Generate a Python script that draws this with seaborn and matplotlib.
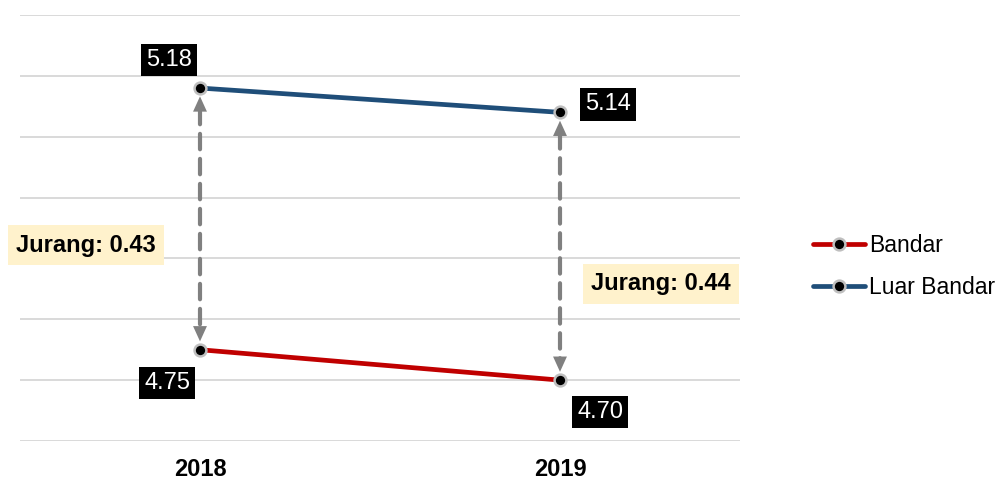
import matplotlib
matplotlib.use("Agg")
import matplotlib.pyplot as plt
import seaborn as sns
import pandas as pd

years = ["2018", "2019"]
bandar = [4.75, 4.70]
luar_bandar = [5.18, 5.14]
gaps = [0.43, 0.44]
series_names = ["Bandar", "Luar Bandar"]
y_ticks = [4.6, 4.7, 4.8, 4.9, 5.0, 5.1, 5.2, 5.3]

sns.set_style("white")
plt.rcParams['font.family'] = ['Liberation Sans', 'DejaVu Sans']

df = pd.DataFrame({
    "x": list(range(len(years))) * 2,
    "value": bandar + luar_bandar,
    "series": [series_names[0]] * len(years) + [series_names[1]] * len(years),
})

FS = 17
fig = plt.figure(figsize=(10.06, 4.79), dpi=100)
ax = fig.add_axes([20 / 1006, 38 / 479, 720 / 1006, 426 / 479])

palette = {"Bandar": "#C00000", "Luar Bandar": "#1F4E79"}
sns.lineplot(data=df, x="x", y="value", hue="series", palette=palette, ax=ax,
             linewidth=3.4, marker="o", markersize=8.5, markerfacecolor="black",
             markeredgecolor="#BFBFBF", markeredgewidth=1.8, zorder=5)

ax.set_xlim(-0.5, len(years) - 0.5)
ax.set_ylim(4.6, 5.3)
ax.set_yticks(y_ticks)
ax.set_yticklabels([])
ax.tick_params(axis="y", length=0)
ax.tick_params(axis="x", length=0, pad=12)
ax.set_xticks(range(len(years)))
ax.set_xticklabels(years, fontsize=FS, fontweight="bold", color="black")
ax.set_xlabel("")
ax.set_ylabel("")
ax.grid(axis="y", color="#D9D9D9", linewidth=1.4)
ax.grid(axis="x", visible=False)
for s in ax.spines.values():
    s.set_visible(False)

# gap arrows: solid heads + dashed shaft
for i in range(len(years)):
    ax.annotate("", xy=(i, bandar[i]), xytext=(i, luar_bandar[i]),
                arrowprops=dict(arrowstyle="<|-|>,head_length=0.55,head_width=0.25",
                                color="#808080", lw=0, shrinkA=6, shrinkB=6,
                                mutation_scale=20), zorder=3)
    ax.annotate("", xy=(i, bandar[i]), xytext=(i, luar_bandar[i]),
                arrowprops=dict(arrowstyle="-", color="#808080", lw=3,
                                linestyle=(0, (3.7, 2.3)), shrinkA=15, shrinkB=15),
                zorder=3)

box = dict(boxstyle="square,pad=0.22", fc="black", ec="none")
offsets_top = [(-31, 28), (48, 8)]
offsets_bot = [(-33, -33), (40, -32)]
for i in range(len(years)):
    ax.annotate(f"{luar_bandar[i]:.2f}", xy=(i, luar_bandar[i]), xytext=offsets_top[i],
                textcoords="offset pixels", ha="center", va="center", color="white",
                fontsize=FS, bbox=box, zorder=6)
    ax.annotate(f"{bandar[i]:.2f}", xy=(i, bandar[i]), xytext=offsets_bot[i],
                textcoords="offset pixels", ha="center", va="center", color="white",
                fontsize=FS, bbox=box, zorder=6)

gbox = dict(boxstyle="square,pad=0.36", fc="#FFF2CC", ec="none")
gap_pos = [(-114, 0), (101, 0)]
gap_y = [4.922, 4.858]
for i in range(len(years)):
    ax.annotate(f"Jurang: {gaps[i]:.2f}", xy=(i, gap_y[i]), xytext=gap_pos[i],
                textcoords="offset pixels", ha="center", va="center", color="black",
                fontsize=FS, fontweight="bold", bbox=gbox, zorder=6,
                annotation_clip=False)

handles, labels = ax.get_legend_handles_labels()
ax.legend(handles, labels, loc="center left", bbox_to_anchor=(1.089, 0.41),
          frameon=False, fontsize=16.5, handlelength=2.25, handletextpad=0.18,
          labelspacing=0.85, borderaxespad=0, labelcolor="black")

fig.savefig("out.png", dpi=100)
